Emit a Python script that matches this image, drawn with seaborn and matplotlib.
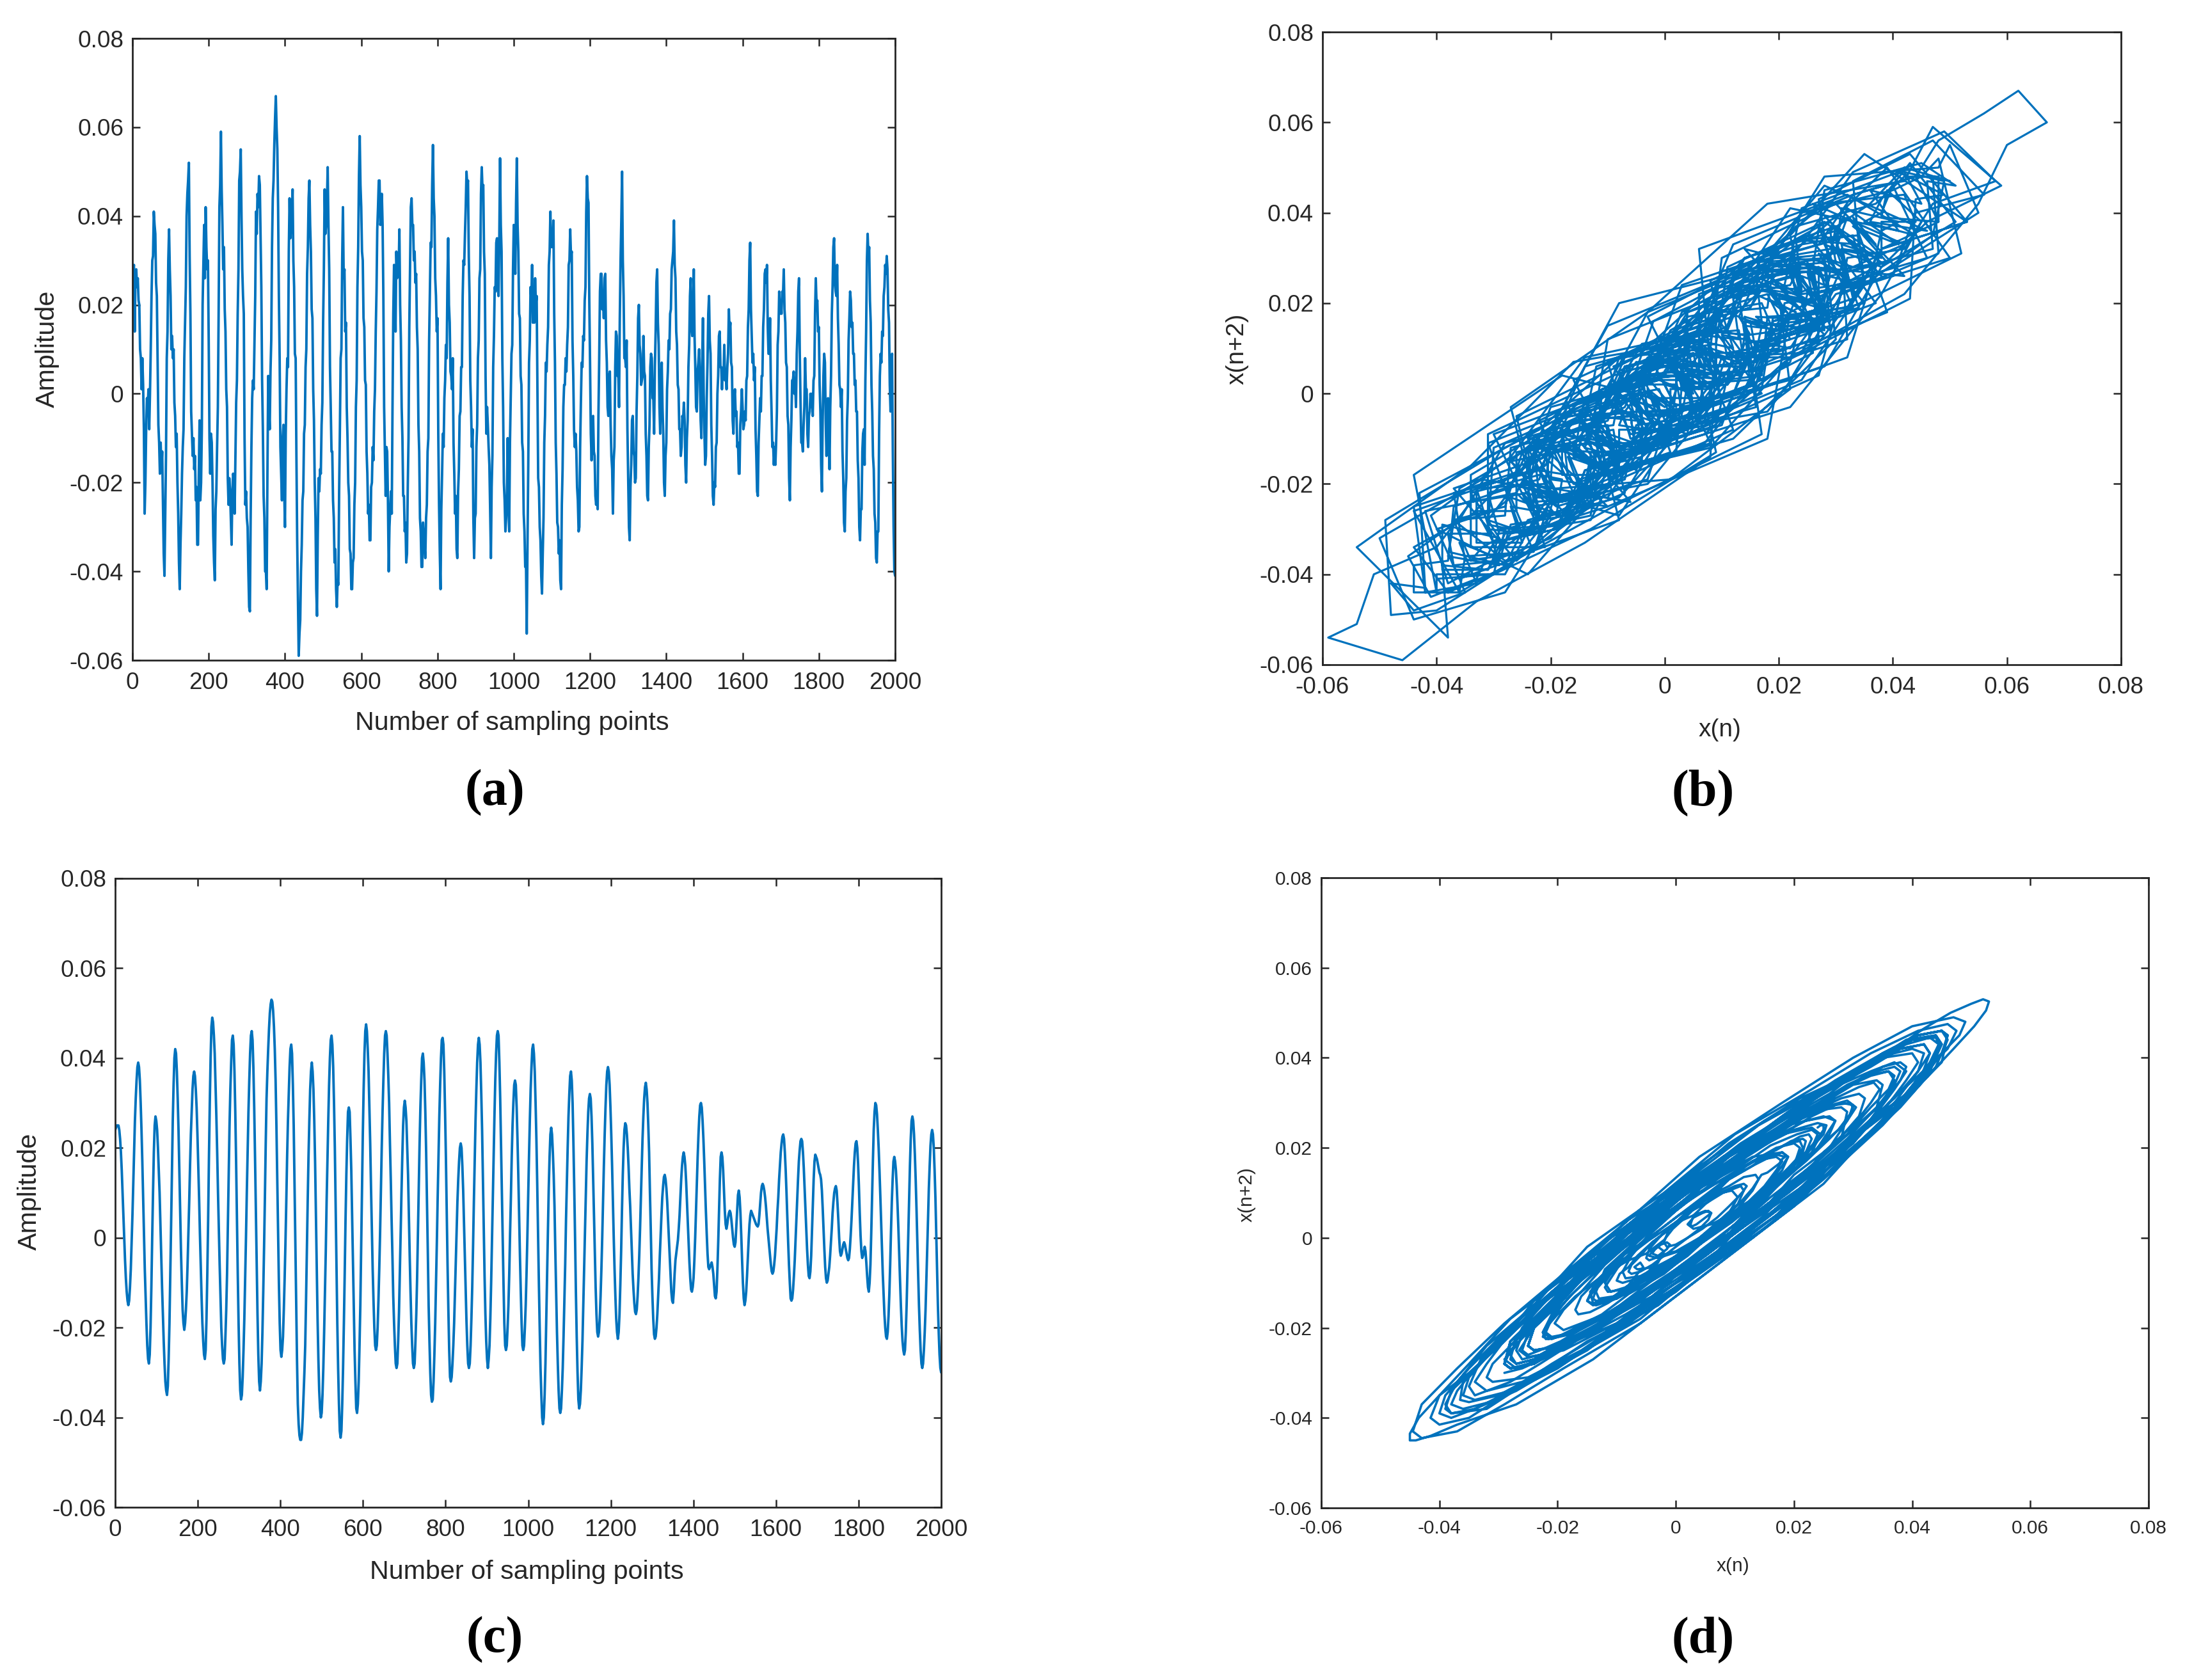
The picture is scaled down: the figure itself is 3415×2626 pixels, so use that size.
import numpy as np
import matplotlib
matplotlib.use("Agg")
import matplotlib.pyplot as plt
import seaborn as sns

# amplitudes, in units of 0.001
# noisy signal (a), one value every 2 sampling points, one row per 100 points
noisy_amp = [
    20, 28, 29, 14, 27, 28, 24, 26, 21, 20, 10, 8, 1, 8, 2, -8, -27, -20, -8, -1, -3, 1, -8, 0, 10, 22, 30, 31, 41, 38, 36, 25, 22, 7, -7, -11, -18, -11, -17, -13, -25, -36, -41, -27, -14, 8, 14, 30, 37, 28,
    22, 10, 13, 8, 10, -2, -5, -12, -9, -20, -27, -38, -44, -34, -27, -18, -12, -8, 8, 16, 24, 40, 45, 48, 52, 31, 18, -4, -9, -14, -10, -17, -14, -24, -21, -34, -34, -18, -6, -24, -20, -8, 20, 29, 38, 26, 42, 33, 28, 30,
    12, -10, -18, -9, -11, -20, -32, -38, -42, -26, -22, -12, -3, 18, 42, 47, 59, 46, 38, 28, 33, 19, 14, 1, -3, -19, -25, -19, -22, -28, -34, -22, -18, -19, -27, -15, -2, 3, 18, 28, 48, 50, 55, 40, 28, 22, 18, -10, -25, -22,
    -28, -30, -40, -48, -49, -28, -12, -1, 3, 1, 12, 22, 41, 36, 45, 42, 49, 47, 35, 24, 3, -8, -23, -28, -40, -40, -44, -18, 4, -3, -8, 5, 12, 33, 44, 48, 56, 62, 67, 60, 55, 42, 22, 8, -12, -18, -24, -10, -7, -22,
    -30, -9, 1, 8, 6, 32, 44, 35, 38, 40, 46, 30, 24, 9, 8, -14, -33, -46, -59, -54, -51, -40, -34, -24, -22, -9, -7, 6, 10, 27, 33, 44, 48, 38, 32, 19, 17, 1, -6, -20, -28, -44, -50, -32, -19, -22, -17, -18, -7, -2,
    16, 28, 46, 36, 38, 43, 51, 38, 28, 6, -3, -13, -13, -24, -28, -38, -35, -44, -48, -42, -43, -22, -8, 8, 10, 30, 42, 26, 28, 14, 16, -3, -10, -20, -23, -35, -36, -44, -44, -38, -37, -25, -20, -3, 3, 24, 33, 49, 58, 47,
    42, 32, 30, 17, 15, 3, 2, -13, -18, -27, -25, -33, -33, -21, -20, -12, -15, -4, 1, 14, 23, 37, 42, 48, 48, 38, 39, 45, 38, 22, -3, -13, -23, -12, -13, -24, -40, -30, -26, -22, -27, -3, 18, 29, 27, 14, 32, 26, 30, 27,
    37, 20, 12, -3, -10, -23, -23, -31, -29, -38, -36, -21, -10, 15, 28, 42, 44, 38, 38, 30, 32, 25, 27, 15, 10, -7, -13, -28, -31, -39, -39, -29, -32, -34, -37, -28, -25, -13, -10, 12, 23, 34, 33, 47, 56, 44, 40, 26, 22, 14,
    17, -9, -25, -36, -44, -26, -18, -9, -12, -1, 3, 11, 8, 25, 35, 20, 16, 5, 4, 1, 8, -11, -18, -27, -23, -35, -37, -22, -17, -5, -4, 6, 6, 22, 30, 29, 36, 42, 50, 47, 48, 31, 22, 3, -3, -12, -8, -28, -37, -28,
    -27, -12, -7, 8, 12, 26, 28, 45, 51, 46, 47, 32, 27, 4, -9, -3, -7, -12, -16, -26, -37, -21, -14, 6, 13, 24, 23, 34, 35, 24, 22, 35, 53, 38, 32, 8, -3, -20, -24, -31, -28, -23, -10, -25, -31, -11, -1, 9, 11, 28,
    38, 29, 27, 43, 53, 38, 32, 18, 17, 4, 2, -11, -13, -27, -31, -39, -38, -54, -34, -16, 7, 12, 24, 21, 29, 16, 17, 16, 26, 20, 22, 1, -19, -21, -30, -33, -41, -45, -36, -28, -11, -5, 7, 5, 11, 15, 29, 32, 41, 33,
    37, 33, 39, 18, 7, -11, -18, -29, -30, -36, -33, -42, -44, -25, -17, -3, 2, 2, 8, 5, 11, 15, 29, 30, 37, 31, 32, 12, 4, -8, -12, -9, -13, -21, -24, -31, -30, -12, -2, 7, 6, 13, 12, 21, 24, 41, 49, 44, 43, 21,
    7, -9, -15, -6, -5, -13, -14, -23, -25, -22, -26, -5, 8, 23, 27, 27, 19, 22, 17, 26, 27, 12, 7, -3, -5, 4, 5, -7, -14, -17, -27, -15, -12, 6, 14, 13, 4, 5, -3, 17, 30, 39, 50, 30, 22, 8, 8, 6, 12, -8,
    -19, -30, -33, -21, -16, -6, -5, -13, -14, -20, -19, -4, 4, 17, 20, 11, 9, 2, 3, 4, 13, 5, 4, -9, -14, -23, -24, -12, -7, 6, 9, 8, -1, -1, -9, 6, 14, 25, 28, 16, 11, -3, -9, 2, 7, -3, -9, -20, -23, -14,
    -11, 1, 5, 12, 10, 18, 19, 28, 30, 32, 39, 29, 26, 14, 11, 2, 1, -8, -8, -14, -12, -5, -6, -2, -6, -16, -20, -10, -6, 6, 11, 22, 26, 15, 13, 17, 28, 13, 6, -3, -4, 5, 7, 10, 4, -6, -10, 7, 17, 0,
    -9, -16, -14, -1, 7, 18, 22, 12, 9, -7, -14, -23, -25, -20, -21, -12, -11, 0, 4, 13, 14, 6, 6, 1, 5, 4, 11, 3, 4, 1, 6, 9, 19, 14, 16, 7, 6, -6, -9, -1, 1, -5, -4, -12, -11, -18, -18, -7, -4, 1,
    -3, -8, -7, -4, -6, 3, 4, 15, 19, 30, 34, 19, 13, 7, 9, 3, 6, -8, -14, -22, -23, -11, -6, -1, -4, 4, 4, 15, 19, 27, 28, 25, 29, 15, 9, 9, 17, 3, -4, -12, -11, -16, -12, -16, -11, -4, 11, 14, 23, 18,
    21, 18, 23, 22, 28, 19, 16, 7, 6, -5, -7, -19, -24, -12, -6, 3, 3, 5, 0, 2, -3, 9, 14, 23, 26, 9, -2, -11, -11, -13, -7, -3, 8, 1, 1, -9, -12, -5, -4, 0, -3, 0, -5, 3, 4, 18, 26, 20, 21, 14,
    15, 2, -4, -16, -22, -6, 4, 9, 7, -6, -14, -4, -1, -5, -17, -3, 4, 18, 24, 33, 35, 25, 23, 22, 29, 17, 11, 2, 1, -3, 1, -13, -19, -29, -31, -22, -19, -6, -1, 12, 17, 23, 21, 15, 16, 9, 9, 2, 3, -4,
    -4, -15, -19, -30, -33, -26, -26, -13, -9, -8, -16, 3, 14, 30, 36, 31, 33, 21, 16, 2, -4, -14, -17, -27, -29, -37, -38, -31, -31, -9, 4, 9, 7, 14, 13, 22, 24, 29, 27, 31, 28, 19, 16, 2, -4, 5, 9, -13, -30, -40,
    -41,
]

# denoised signal (c), about one value every 2 sampling points, one row per half wave
clean_amp = [
    24, 24.5, 25, 25, 25,
    24, 22, 19, 15, 10, 5, 0, -5, -9, -12, -14, -15,
    -14, -11, -7, -1, 5, 12, 19, 26, 31, 35, 38, 39,
    38, 35, 30, 24, 17, 9, 1, -7, -13, -19, -24, -27, -28,
    -26, -20, -11, 0, 10, 19, 25, 27,
    26, 24, 20, 15, 10, 3, -4, -11, -17, -23, -28, -32, -34, -35,
    -33, -27, -19, -8, 3, 15, 26, 34, 40, 42,
    41, 37, 31, 24, 15, 6, -3, -10, -16, -19, -20.5,
    -19, -16, -12, -6, 1, 8, 16, 23, 28, 33, 36, 37,
    36, 33, 29, 23, 16, 9, 1, -6, -13, -19, -23, -26, -27,
    -25, -18, -8, 4, 18, 30, 40, 47, 49,
    48, 45, 41, 34, 27, 19, 10, 2, -6, -13, -20, -24, -27, -28,
    -27, -22, -16, -8, 3, 14, 25, 33, 39, 44, 45,
    43, 37, 28, 17, 4, -8, -19, -28, -34, -36,
    -35, -31, -25, -18, -9, 0, 10, 19, 28, 35, 41, 45, 46,
    44, 38, 29, 18, 6, -6, -17, -26, -32, -34,
    -32, -28, -21, -12, -2, 9, 21, 31, 37, 42, 46.5, 50, 52, 53,
    52.5, 50.5, 47, 42, 35, 25, 13, 0, -10, -19, -25, -26.5,
    -25, -22, -16, -9, -1, 8, 18, 26, 32, 38, 42, 43,
    41, 34, 25, 12, -1, -14, -27, -37, -41.5, -44, -45, -45,
    -43.5, -40, -35, -30, -24, -14, -3, 8, 18, 26, 33, 37, 39,
    37, 33, 26, 17, 5, -6, -18, -27, -34, -38, -40,
    -39, -35, -29, -21, -12, -3, 8, 17, 26, 34, 40, 44, 45,
    43, 38, 30, 20, 7, -6, -19, -29, -37, -43, -44.5,
    -43, -37, -29, -19, -8, 4, 14, 22, 28, 29,
    28, 22, 15, 5, -5, -15, -25, -32, -38, -39,
    -37, -32, -24, -15, -2, 10, 23, 33, 41, 46, 47.5,
    46, 42, 37, 29, 21, 11, 2, -7, -14, -20, -24, -25,
    -24, -20, -14, -7, 1, 10.5, 20, 28, 35, 41, 45, 46,
    45, 41, 36, 30, 21, 13, 4, -4, -13, -19, -24, -28, -29,
    -28, -23, -16.5, -8, 1, 10, 18, 25, 29, 30.5,
    29, 26, 20, 14, 5, -4, -12, -19, -24, -28, -29,
    -28, -23, -17, -9, 1, 11, 21, 29, 35, 40, 41,
    39, 35, 28, 19, 8, -3, -15, -23, -30, -35, -36.5,
    -36, -32, -26, -19, -10, -1, 9, 18, 27, 34, 40, 44, 44.5,
    43, 37, 28, 18, 6, -6, -16, -25, -31, -32,
    -31, -28, -24, -19, -12, -5.5, 1, 8, 13, 17, 20, 21,
    20, 16, 10.5, 3.5, -4, -11.5, -18.5, -24, -28, -29,
    -28, -24, -18, -11, -2, 8, 17, 26, 33, 39, 43, 44.5,
    43, 39, 32, 24, 13, 2, -8.5, -17, -23, -27, -29,
    -27, -24, -18, -10, -1, 8.5, 18, 27, 35, 41, 45, 46,
    45, 39, 31, 21, 10.5, 0, -10, -19, -24, -25,
    -24, -20, -15, -8, 1, 9, 18, 25, 30, 34, 35,
    34, 29, 22, 14, 5, -4, -12, -19, -24, -25,
    -24, -20, -15, -8, 0, 9, 18, 26, 33, 38, 42, 43,
    41, 37, 30, 22, 12, 1, -10, -20, -29, -35, -40, -41.5,
    -40, -35, -28, -18, -8, 1.5, 11, 18, 23, 24.5,
    23, 19, 14, 7, -3, -12, -21, -28, -34, -38, -39,
    -38, -34, -29, -22, -14, -6, 4, 12, 20, 27, 32, 36, 37,
    35, 30, 21, 11, 0, -12, -22, -30, -36, -38,
    -37, -34, -29, -23, -15, -7, 1, 9, 17, 23, 28, 31, 32,
    31, 27, 21, 13, 5, -3, -11, -17, -21, -22,
    -21, -18, -13, -7, 0, 8, 16, 23, 29, 34, 37, 38,
    37, 34, 29, 23, 16, 8, 0, -7, -13, -18, -21, -22.5,
    -21, -17, -10.5, -3, 6, 14, 20, 24, 25.5,
    25, 23, 20, 16, 11, 7, 2, -3, -8, -11.5, -14.5, -16.5, -17,
    -16, -13, -9, -4, 2, 9, 15.5, 22, 27, 31, 33.5, 34.5,
    33, 30, 25, 19, 10, 2, -7, -13, -18, -21.5, -22.5,
    -22, -20, -17, -13, -9, -4, 0.5, 5, 9, 11.5, 13.5, 14,
    13, 11, 8, 4, 0, -4, -8, -12, -14, -14.5,
    -12, -8, -5, -3.5, -2, -0.5, 2, 5, 9, 13, 16, 18, 19,
    18, 16, 12.5, 8, 3.5, -1, -5.5, -9, -11.5, -12,
    -11, -9, -5, 0, 6, 12, 18, 23, 27, 29.5, 30,
    29, 26, 22, 17, 11.5, 6, 1, -3.5, -6.5, -7,
    -6.5, -6, -5.5,
    -6.5, -8, -10.5, -13, -13.5,
    -12, -7, -1, 6, 13, 18, 19,
    18, 15, 10.5, 6, 3, 2,
    3, 4.5, 5.5, 6,
    5.5, 4, 2, 0, -1.5, -2,
    -1, 2.5, 6, 9.5, 10.5,
    9, 5.5, 0.5, -5, -10, -13.5, -15,
    -14, -12, -8.5, -4.5, -0.5, 3, 5, 6,
    5.5, 5, 4.5, 4, 3.5, 3, 2.7, 2.5,
    3, 5, 7.5, 10, 11.5, 12,
    11.5, 10.5, 9, 7, 4.5, 2, 0, -2, -4, -6, -7.5, -8,
    -7.5, -6, -4, -1, 2, 6, 9, 13, 16, 19, 21, 22.5, 23,
    22, 19, 15, 10, 4.5, -1, -6, -10, -13.5, -14,
    -13.5, -11.5, -8.5, -5, -0.5, 4, 8.5, 13, 17, 19.5, 21.5, 22,
    21.5, 19, 15.5, 11, 6.5, 2, -2.5, -6, -8.5, -9,
    -7.5, -4, 1.7, 7.8, 13, 17, 18.5,
    18, 17.5, 16.5, 15.5, 14.5, 14,
    13, 10.5, 6.5, 2, -2.5, -6.5, -9, -10,
    -9.5, -8, -6.5, -4, -1, 2, 5.5, 8, 10, 11, 11.5,
    10.5, 7.5, 4, 0, -3, -4,
    -3.5, -2.5, -1.5, -1,
    -1.5, -2.5, -3.5, -4.5, -5,
    -4.5, -2.5, 0.5, 4, 8, 12, 16, 19, 21, 21.5,
    20, 16.5, 11.5, 5.5, 0.5, -3, -4.5,
    -4, -3, -2,
    -3, -5.5, -8.5, -11, -12,
    -10, -6, 1, 9, 17, 24, 28, 30,
    29.5, 27.5, 24, 20, 15, 9.5, 3.5, -2, -8, -12.5, -17, -20, -22, -22.5,
    -21, -17.5, -12.5, -6, 1.5, 8, 13, 17, 18,
    17, 15, 11.5, 7, 2, -4, -9.5, -15, -19.5, -23, -25, -26,
    -25, -21, -15, -7.5, 0.5, 8.5, 16, 22, 26, 27,
    26, 23, 18.5, 13, 6.5, -1, -8, -15, -20.5, -25, -28, -29,
    -28, -25, -21, -16, -9.5, -2.5, 4, 11, 16, 20.5, 23, 24,
    23, 20, 15, 9, 1, -7, -15, -21, -26, -29, -30,
]

x_ticks_time = [0, 200, 400, 600, 800, 1000, 1200, 1400, 1600, 1800, 2000]
amp_ticks = [-0.06, -0.04, -0.02, 0, 0.02, 0.04, 0.06, 0.08]
amp_labels = ["-0.06", "-0.04", "-0.02", "0", "0.02", "0.04", "0.06", "0.08"]
phase_ticks = [-0.06, -0.04, -0.02, 0, 0.02, 0.04, 0.06, 0.08]
phase_labels = ["-0.06", "-0.04", "-0.02", "0", "0.02", "0.04", "0.06", "0.08"]

W, H = 3415, 2626
LINE = "#0072BD"
DARK = "#262626"

sns.set_style("white")
plt.rcParams["font.family"] = ["Liberation Sans", "DejaVu Sans"]

fig = plt.figure(figsize=(W / 100, H / 100), dpi=100)


def make_axes(left, top, right, bottom):
    # pixel box of the reference to figure fractions
    return fig.add_axes([left / W, 1 - bottom / H, (right - left) / W, (bottom - top) / H])


def style(ax, xticks, xlabels, xlim, xlabel, ylabel, xpos, ypos, tick_size, label_size):
    ax.set_xlim(*xlim)
    ax.set_ylim(-0.06, 0.08)
    ax.set_xticks(xticks)
    ax.set_xticklabels(xlabels)
    ax.set_yticks(amp_ticks)
    ax.set_yticklabels(amp_labels)
    ax.tick_params(direction="in", length=8.6, width=1.8, top=True, right=True, bottom=True, left=True,
                   labelsize=tick_size, labelcolor=DARK, color=DARK, pad=10)
    ax.tick_params(axis="x", pad=13)
    for spine in ax.spines.values():
        spine.set_visible(True)
        spine.set_color(DARK)
        spine.set_linewidth(2)
    ax.set_xlabel("")
    ax.set_ylabel("")
    fig.text(xpos[0] / W, 1 - xpos[1] / H, xlabel, ha="center", va="center", fontsize=label_size, color=DARK)
    fig.text(ypos[0] / W, 1 - ypos[1] / H, ylabel, ha="center", va="center", rotation=90,
             fontsize=label_size, color=DARK)


def panel_tag(x, y, tag):
    fig.text(x / W, 1 - y / H, tag, ha="center", va="center", fontsize=58, fontweight="bold",
             family=["Liberation Serif", "DejaVu Serif"], color="black")


noisy = np.array(noisy_amp) / 1000
clean = np.array(clean_amp) / 1000
noisy_n = np.arange(len(noisy)) * 2
clean_n = np.linspace(0, 2000, len(clean))

# (a) noisy signal
ax_a = make_axes(207, 60, 1399, 1032)
sns.lineplot(x=noisy_n, y=noisy, ax=ax_a, color=LINE, linewidth=2.8, estimator=None, sort=False)
style(ax_a, x_ticks_time, [str(t) for t in x_ticks_time], (0, 2000),
      "Number of sampling points", "Amplitude", (800, 1130), (74, 545), 26.6, 29.7)

# (b) phase space of the noisy signal
ax_b = make_axes(2067, 50, 3315, 1039)
sns.lineplot(x=noisy[:-1], y=noisy[1:], ax=ax_b, color=LINE, linewidth=2.3, estimator=None, sort=False)
style(ax_b, phase_ticks, phase_labels, (-0.06, 0.08),
      "x(n)", "x(n+2)", (2688, 1141), (1934, 545), 26.6, 28)

# (c) denoised signal
ax_c = make_axes(180, 1373, 1471, 2356)
sns.lineplot(x=clean_n, y=clean, ax=ax_c, color=LINE, linewidth=2.8, estimator=None, sort=False)
style(ax_c, x_ticks_time, [str(t) for t in x_ticks_time], (0, 2000),
      "Number of sampling points", "Amplitude", (823, 2457), (46, 1862), 26.6, 29.7)

# (d) phase space of the denoised signal
ax_d = make_axes(2065, 1372, 3358, 2357)
sns.lineplot(x=clean[:-1], y=clean[1:], ax=ax_d, color=LINE, linewidth=2.6, estimator=None, sort=False)
style(ax_d, phase_ticks, phase_labels, (-0.06, 0.08),
      "x(n)", "x(n+2)", (2709, 2448), (1949, 1867), 21.5, 21.5)

panel_tag(773, 1239, "(a)")
panel_tag(2662, 1239, "(b)")
panel_tag(773, 2563, "(c)")
panel_tag(2662, 2563, "(d)")

fig.savefig("out.png", dpi=100, facecolor="white")
